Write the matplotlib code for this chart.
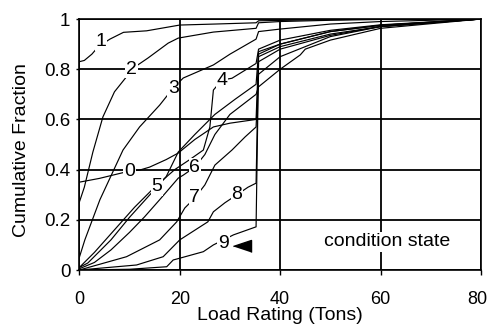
import matplotlib
matplotlib.use("Agg")
import matplotlib.pyplot as plt
import matplotlib.transforms as mtransforms
from matplotlib.ticker import FuncFormatter

plt.rcParams['font.family'] = ['Liberation Sans', 'DejaVu Sans']

# cumulative distribution of load rating, one curve per condition state
cs0_x = [0, 4, 8.3, 10, 12, 14, 17.3, 19.7, 23, 26.7, 30, 35.2, 35.7, 40, 50, 60, 80]
cs0_y = [0.35, 0.365, 0.386, 0.394, 0.398, 0.41, 0.44, 0.466, 0.52, 0.57, 0.585, 0.6, 0.86, 0.9, 0.95, 0.975, 1.0]

cs1_x = [0, 1, 2.5, 3.8, 6.1, 8.8, 13.4, 20, 27, 35.2, 35.7, 45, 60, 80]
cs1_y = [0.83, 0.835, 0.86, 0.89, 0.92, 0.947, 0.953, 0.976, 0.98, 0.985, 0.993, 0.996, 1.0, 1.0]

cs2_x = [0, 1, 2.7, 4.7, 7, 9.4, 10.4, 13.7, 17.7, 19.7, 26.7, 35.2, 35.7, 40, 50, 65, 80]
cs2_y = [0.27, 0.33, 0.47, 0.61, 0.71, 0.77, 0.80, 0.845, 0.904, 0.924, 0.948, 0.963, 0.985, 0.99, 0.995, 1.0, 1.0]

cs3_x = [0, 1.1, 4.1, 8.7, 12, 16, 18.7, 20.7, 26.7, 30, 35.2, 35.7, 40, 50, 60, 80]
cs3_y = [0.05, 0.12, 0.28, 0.478, 0.57, 0.657, 0.725, 0.765, 0.817, 0.86, 0.92, 0.95, 0.96, 0.98, 0.99, 1.0]

cs4_x = [0, 3, 7, 11, 15, 19, 22, 24.7, 26, 26.7, 28.4, 30.4, 35.2, 35.7, 40, 50, 60, 80]
cs4_y = [0.01, 0.07, 0.16, 0.25, 0.33, 0.4, 0.44, 0.478, 0.57, 0.717, 0.757, 0.764, 0.823, 0.88, 0.916, 0.955, 0.977, 1.0]

cs5_x = [0, 1.7, 6.3, 10, 13.7, 15.5, 17.3, 19.7, 23, 27, 31, 35.2, 35.7, 40, 50, 60, 80]
cs5_y = [0.01, 0.028, 0.12, 0.21, 0.292, 0.332, 0.372, 0.47, 0.54, 0.62, 0.68, 0.74, 0.87, 0.9, 0.95, 0.975, 1.0]

cs6_x = [0, 3, 6.3, 10, 13, 16, 19.7, 20.7, 23, 25, 27, 30, 35.2, 35.7, 40, 44, 45, 50, 60, 80]
cs6_y = [0.005, 0.03, 0.08, 0.15, 0.212, 0.28, 0.366, 0.378, 0.41, 0.46, 0.54, 0.62, 0.70, 0.73, 0.80, 0.857, 0.88, 0.916, 0.963, 1.0]

cs7_x = [0, 9.4, 16, 19.4, 21, 23, 25, 27, 30.4, 33, 35.2, 35.7, 40, 50, 60, 80]
cs7_y = [0.0, 0.053, 0.12, 0.192, 0.247, 0.287, 0.339, 0.418, 0.478, 0.53, 0.57, 0.78, 0.85, 0.93, 0.97, 1.0]

cs8_x = [0, 11.4, 16.7, 20, 25.6, 26.7, 29, 31.4, 33.6, 35.2, 35.7, 40, 50, 60, 80]
cs8_y = [0.0, 0.02, 0.053, 0.12, 0.192, 0.232, 0.268, 0.30, 0.33, 0.346, 0.85, 0.89, 0.94, 0.97, 1.0]

cs9_x = [0, 10, 17.4, 18.7, 20, 24.7, 26.7, 28.7, 30.7, 35.2, 35.7, 40, 50, 60, 80]
cs9_y = [0.0, 0.003, 0.013, 0.04, 0.047, 0.073, 0.1, 0.12, 0.14, 0.172, 0.83, 0.88, 0.935, 0.97, 1.0]

curves = [(cs0_x, cs0_y), (cs1_x, cs1_y), (cs2_x, cs2_y), (cs3_x, cs3_y), (cs4_x, cs4_y),
          (cs5_x, cs5_y), (cs6_x, cs6_y), (cs7_x, cs7_y), (cs8_x, cs8_y), (cs9_x, cs9_y)]

# where each state number sits on its curve
label_names = ['0', '1', '2', '3', '4', '5', '6', '7', '8', '9']
label_x = [10.0, 4.3, 10.4, 18.7, 28.4, 15.5, 23.0, 23.0, 31.4, 28.7]
label_y = [0.394, 0.91, 0.80, 0.725, 0.757, 0.332, 0.41, 0.287, 0.30, 0.107]

fig = plt.figure(figsize=(4.89, 3.28), dpi=100)
ax = fig.add_axes([0.1622, 0.1768, 0.8215, 0.7652])

for xs, ys in curves:
    ax.plot(xs, ys, color='black', lw=0.85, zorder=3)

for name, lx, ly in zip(label_names, label_x, label_y):
    ax.text(lx, ly, name, fontsize=14, ha='center', va='center', zorder=5,
            bbox=dict(facecolor='white', edgecolor='none', pad=0.5))

# little pointer next to the "9" label
tri = [(-1.5, 0), (1.5, 1), (1.5, -1)]
ax.plot([32.4], [0.096], marker=tri, ms=13, color='black', zorder=5)

ax.text(61.2, 0.113, 'condition state', fontsize=14, ha='center', va='center', zorder=5,
        bbox=dict(facecolor='white', edgecolor='none', pad=1))

ax.set_xlim(0, 80)
ax.set_ylim(0, 1)
ax.set_xticks([0, 20, 40, 60, 80])
ax.set_yticks([0, 0.2, 0.4, 0.6, 0.8, 1.0])
ax.yaxis.set_major_formatter(FuncFormatter(lambda v, p: '%g' % v))
ax.grid(True, color='black', lw=1.3, zorder=1)
ax.set_axisbelow(True)

ax.tick_params(axis='x', direction='out', length=3.6, width=1, pad=11.5, labelsize=13)
ax.tick_params(axis='y', direction='out', length=2, width=1, pad=4.5, labelsize=13.5)
for s in ax.spines.values():
    s.set_linewidth(1.2)

# keep the last x tick label inside the figure
fig.canvas.draw()
last = ax.get_xticklabels()[-1]
last.set_transform(last.get_transform() + mtransforms.ScaledTranslation(-3 / 72, 0, fig.dpi_scale_trans))

ax.set_xlabel('Load Rating (Tons)', fontsize=14)
ax.set_ylabel('Cumulative Fraction', fontsize=14)
ax.xaxis.set_label_coords(0.5, -0.148)
ax.yaxis.set_label_coords(-0.123, 0.478)

fig.savefig('out.png', dpi=100)
